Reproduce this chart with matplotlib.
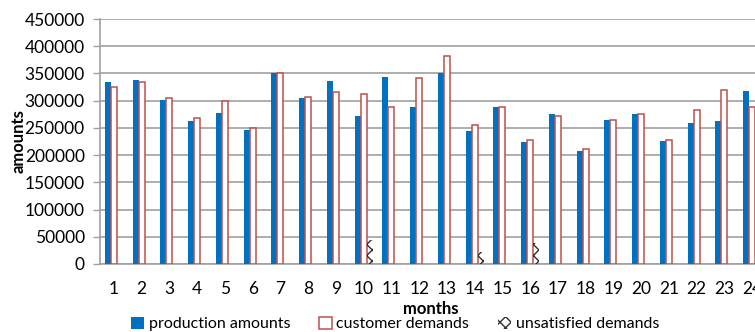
import matplotlib.pyplot as plt
import numpy as np
from matplotlib.patches import Patch

plt.rcParams['font.family'] = ['Lato', 'DejaVu Sans']
plt.rcParams['hatch.linewidth'] = 1.0

# data
months = [str(m) for m in range(1, 25)]
production = [335000, 338000, 302000, 262000, 277000, 246000, 350000, 305000,
              336000, 271000, 343000, 289000, 350000, 244000, 288000, 225000,
              275000, 207000, 265000, 275000, 226000, 259000, 262000, 318000]
demands = [325000, 335000, 305000, 269000, 299000, 250000, 350000, 306000,
           316000, 312000, 289000, 341000, 382000, 256000, 288000, 227000,
           271000, 212000, 265000, 276000, 227000, 282000, 319000, 288000]
unsatisfied = [0, 0, 0, 0, 0, 0, 0, 0, 0, 45000, 0, 0, 0, 22000, 0, 38000,
               0, 0, 0, 0, 0, 0, 0, 0]
yticks = list(range(0, 450001, 50000))

fig = plt.figure(figsize=(7.55, 3.32), dpi=100)
ax = fig.add_axes([100 / 755, 68 / 332, 666 / 755, 245 / 332])

x = np.arange(len(months))
w = 0.216
ax.bar(x - w, production, w, color='#0070C0', zorder=3)
ax.bar(x, demands, w, facecolor='white', edgecolor='#C0504D', linewidth=1.1, zorder=3)
ax.bar(x + w, unsatisfied, w, facecolor='none', edgecolor='#303030',
       hatch='xxx', linewidth=0, zorder=3)

ax.set_xlim(-0.5, len(months) - 0.5)
ax.set_ylim(0, 450000)
ax.set_yticks(yticks)
ax.set_yticklabels([str(v) for v in yticks], fontsize=12.5)
ax.set_xticks(x)
ax.set_xticklabels(months, fontsize=12.5)
ax.tick_params(axis='x', length=0, pad=12)
ax.tick_params(axis='y', length=5, width=1, color='#A0A0A0', pad=6)
ax.yaxis.grid(True, color='#A0A0A0', linewidth=1.2, zorder=0)
ax.set_axisbelow(True)
for s in ['top', 'right']:
    ax.spines[s].set_visible(False)
for s in ['left', 'bottom']:
    ax.spines[s].set_color('#A0A0A0')
    ax.spines[s].set_linewidth(1.2)

ax.set_ylabel('amounts', fontsize=12, fontweight='bold')
ax.yaxis.set_label_coords(-0.11, 0.5)
fig.text(431 / 755, 1 - 309 / 332, 'months', fontsize=12, fontweight='bold',
         ha='center', va='center')

handles = [Patch(facecolor='#0070C0'),
           Patch(facecolor='white', edgecolor='#C0504D', linewidth=1.1),
           Patch(facecolor='none', edgecolor='#303030', hatch='xxx', linewidth=0)]
labels = ['production amounts', 'customer demands', 'unsatisfied demands']
fig.legend(handles, labels, loc='center', bbox_to_anchor=(395 / 755, 1 - 324 / 332),
           ncol=3, frameon=False, fontsize=11.5, handlelength=0.8, handleheight=0.8,
           handletextpad=0.3, columnspacing=1.8, borderaxespad=0)

fig.savefig('out.png', dpi=100)
